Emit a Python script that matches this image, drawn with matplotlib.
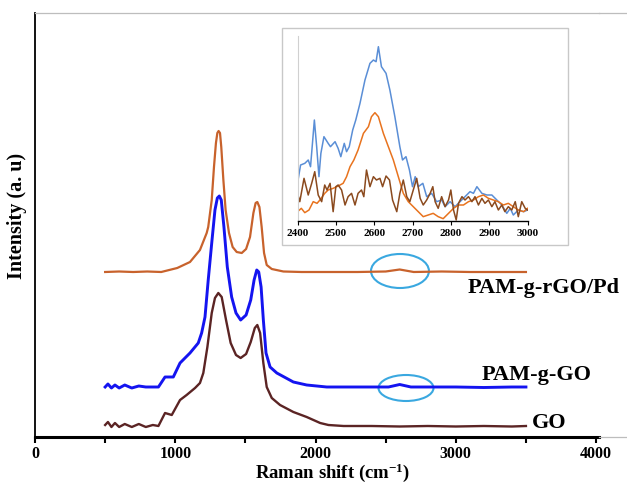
import matplotlib
matplotlib.use("Agg")
import matplotlib.pyplot as plt
from matplotlib.patches import Ellipse, Rectangle
from matplotlib.lines import Line2D
from matplotlib.ticker import MultipleLocator

plt.rcParams['font.family'] = ['Liberation Serif', 'DejaVu Serif']
plt.rcParams['font.weight'] = 'bold'
plt.rcParams['mathtext.fontset'] = 'custom'
plt.rcParams['mathtext.rm'] = 'Liberation Serif:bold'
plt.rcParams['mathtext.bf'] = 'Liberation Serif:bold'
plt.rcParams['mathtext.it'] = 'Liberation Serif:bold'

# ---- main spectra ----
go_x = [500,520,545,570,600,640,690,740,790,840,880,927,975,1034,1081,1141,1176,1200,1229,1260,1283,1307,1331,1362,1395,1433,1466,1505,1538,1567,1585,1605,1628,1652,1688,1747,1842,1937,2033,2092,2200,2400,2600,2800,3000,3200,3400,3500]
go_y = [18,21,16,20,16,19,16,19,16,18,17,30,28,43,48,55,60,70,96,130,145,150,146,123,100,88,85,89,101,115,118,110,80,56,45,38,31,26,20,18,17,17,16.5,17,16.5,17,16.5,17]

pg_x = [500,520,545,570,600,640,690,740,790,840,880,927,986,1034,1105,1164,1188,1212,1235,1260,1283,1300,1314,1328,1347,1371,1402,1433,1466,1505,1538,1562,1581,1595,1612,1628,1647,1676,1724,1842,1937,2080,2200,2400,2520,2600,2680,2800,3000,3200,3400,3500]
pg_y = [56,59,55,58,55,58,55,57,56,56,56,66,66,80,90,100,110,126,163,200,233,245,247,243,216,176,146,130,123,128,143,163,173,171,156,123,90,76,70,61,58,56,56,56,56,58.5,56,56,56,55.5,56,56]

pr_x = [500,600,700,800,900,1014,1105,1176,1224,1235,1260,1276,1290,1300,1309,1319,1328,1343,1359,1383,1409,1438,1474,1505,1533,1557,1573,1585,1600,1616,1633,1652,1688,1771,1900,2100,2300,2500,2600,2700,2900,3100,3300,3500]
pr_y = [171,171.5,171,171.5,171,175,181,193,210,216,243,276,300,310,312,310,296,263,233,210,196,191,190,194,206,230,240,241,236,216,190,178,174,171.5,171,171,171,171.5,173.5,171,171.5,171,171,171]

labels = ['PAM-g-rGO/Pd', 'PAM-g-GO', 'GO']
label_pos = [(3087, 155), (3187, 68), (3544, 20)]

# ---- inset spectra (2400-3000) ----
ib_x = [2400,2408,2419,2428,2434,2444,2450,2456,2461,2469,2480,2486,2498,2506,2513,2522,2528,2535,2544,2552,2563,2576,2589,2598,2605,2611,2619,2631,2641,2654,2667,2674,2683,2692,2700,2707,2715,2727,2737,2750,2763,2776,2785,2798,2811,2824,2837,2850,2859,2868,2881,2894,2907,2920,2933,2946,2955,2963,2976,2990,3000]
ib_y = [108,163,168,178,158,298,218,128,198,248,228,218,233,213,188,228,203,218,268,298,348,418,468,478,473,518,458,438,388,308,218,178,188,148,98,128,98,108,68,78,53,58,38,53,38,53,68,83,78,98,78,73,73,58,43,18,33,13,28,23,28]

io_x = [2400,2410,2419,2430,2441,2451,2460,2471,2480,2493,2506,2519,2528,2537,2547,2558,2572,2585,2593,2602,2611,2624,2637,2650,2663,2676,2689,2702,2715,2728,2741,2754,2767,2780,2794,2807,2820,2833,2846,2859,2872,2885,2898,2911,2924,2937,2950,2963,2976,2990,3000]
io_y = [23,33,20,28,53,48,60,78,88,93,100,108,128,158,178,208,258,278,308,320,308,258,218,178,128,78,53,38,23,8,13,18,8,2,18,33,43,43,53,58,68,73,63,58,53,43,48,38,28,23,33]

ig_x = [2400,2406,2417,2428,2437,2445,2454,2463,2471,2477,2485,2493,2500,2506,2515,2524,2532,2541,2550,2558,2567,2573,2580,2589,2598,2606,2615,2622,2631,2640,2648,2659,2667,2676,2685,2693,2702,2711,2720,2728,2737,2746,2753,2759,2767,2776,2785,2794,2800,2807,2814,2820,2829,2837,2846,2855,2863,2872,2881,2889,2898,2907,2915,2924,2933,2941,2950,2959,2968,2976,2985,2994,3000]
ig_y = [78,53,123,73,108,143,73,53,103,88,108,23,98,103,88,43,68,78,43,78,88,68,148,98,128,118,123,98,130,118,58,23,78,118,68,53,88,123,63,43,58,78,98,53,33,68,38,58,88,28,-2,48,68,58,68,53,68,43,63,48,58,38,53,28,43,23,38,28,53,8,53,33,28]

inset_ticks = [2400, 2500, 2600, 2700, 2800, 2900, 3000]

c_orange = '#C8622C'
c_blue = '#1414F0'
c_brown = '#5B2424'

fig = plt.figure(figsize=(6.27, 4.84), dpi=100)
W, H = 627, 484
X0, X1, YB, YT = 35, 599, 437, 12.7
ax = fig.add_axes([X0/W, 1-YB/H, (X1-X0)/W, (YB-YT)/H])
ax.plot(pr_x, pr_y, color=c_orange, lw=1.6, solid_joinstyle='round')
ax.plot(pg_x, pg_y, color=c_blue, lw=2.1, solid_joinstyle='round')
ax.plot(go_x, go_y, color=c_brown, lw=1.7, solid_joinstyle='round')
ax.set_xlim(0, 4021)
ax.set_ylim(6, 430.3)
ax.spines['right'].set_visible(False)
ax.spines['top'].set_color('#BDBDBD')
ax.spines['top'].set_linewidth(0.9)
ax.spines['bottom'].set_linewidth(2.2)
ax.spines['left'].set_linewidth(1.3)
ax.set_yticks([])
ax.xaxis.set_major_locator(MultipleLocator(1000))
ax.xaxis.set_minor_locator(MultipleLocator(500))
ax.tick_params(axis='x', which='both', direction='out', length=4.5, width=1.5)
ax.tick_params(axis='x', which='major', labelsize=11.5, pad=2)
for t in ax.get_xticklabels():
    t.set_fontweight('bold')

# frame extensions (light gray) to the right edge
fig.add_artist(Line2D([X1/W, 1.0], [1-YT/H, 1-YT/H], transform=fig.transFigure, color='#BDBDBD', lw=0.9))
fig.add_artist(Line2D([X1/W, 1.0], [1-YB/H, 1-YB/H], transform=fig.transFigure, color='#BDBDBD', lw=0.9))

fig.text(333/W, 1-473/H, r'Raman shift (cm$^{-1}$)', fontsize=13.5, fontweight='bold', ha='center', va='center')
fig.text(17/W, 1-216/H, 'Intensity (a. u)', fontsize=14.5, fontweight='bold', ha='center', va='center', rotation=90)

for lab, (lx, ly) in zip(labels, label_pos):
    ax.text(lx, ly, lab, fontsize=16, fontweight='bold', ha='left', va='center')

ax.add_patch(Ellipse((2602, 172), 413, 34, fill=False, ec='#3AA8E0', lw=1.5))
ax.add_patch(Ellipse((2645, 55), 392, 26, fill=False, ec='#3AA8E0', lw=1.5))

# inset frame
fig.patches.append(Rectangle((281.7/W, 1-245/H), (568.3-281.7)/W, (245-28.3)/H,
                             transform=fig.transFigure, fc='white', ec='#C8C8C8', lw=1.0, zorder=2))

axi = fig.add_axes([297.5/W, 1-221/H, 230/W, (221-35.7)/H], zorder=3)
axi.patch.set_alpha(0)
axi.plot(ib_x, ib_y, color='#5A8ED6', lw=1.1)
axi.plot(io_x, io_y, color='#E8731E', lw=1.1)
axi.plot(ig_x, ig_y, color='#8B4A1E', lw=1.1)
axi.set_xlim(2400, 3000)
axi.set_ylim(-5, 551)
for s in ['top', 'right']:
    axi.spines[s].set_visible(False)
axi.spines['left'].set_color('#D0D0D0')
axi.spines['left'].set_linewidth(0.8)
axi.spines['bottom'].set_linewidth(1.0)
axi.set_yticks([])
axi.set_xticks(inset_ticks)
axi.tick_params(axis='x', direction='out', length=3, width=0.8, labelsize=8, pad=3)
for t in axi.get_xticklabels():
    t.set_fontweight('bold')

fig.savefig('out.png', dpi=100)
